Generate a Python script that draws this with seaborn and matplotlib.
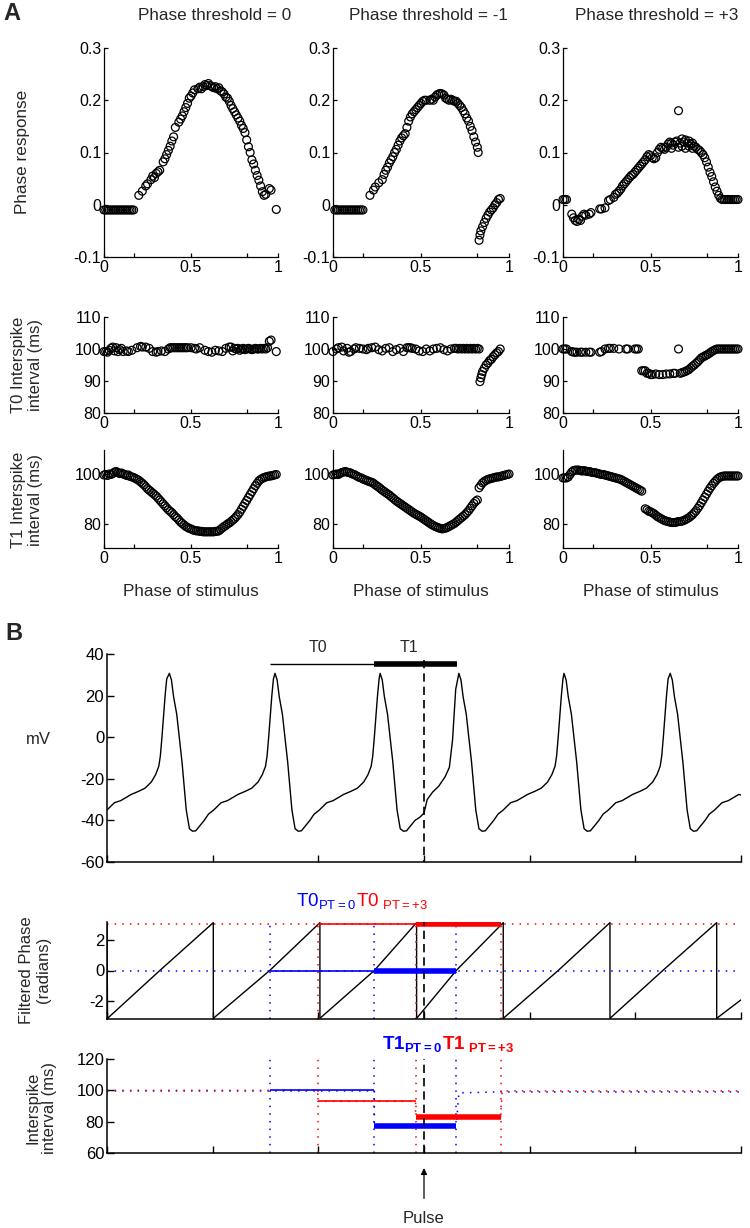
import numpy as np
import matplotlib
matplotlib.use('Agg')
import matplotlib.pyplot as plt
import seaborn as sns
from matplotlib import font_manager

# ---------------- panel A data (x = phase of stimulus) ----------------
# phase response, PT = 0
pr_x0 = [0.00, 0.01, 0.02, 0.03, 0.04, 0.05, 0.06, 0.07, 0.08, 0.09,
         0.10, 0.11, 0.12, 0.13, 0.14, 0.15, 0.16, 0.17,
         0.20, 0.22, 0.24, 0.25, 0.27, 0.28, 0.29, 0.30, 0.31, 0.32,
         0.34, 0.35, 0.36, 0.37, 0.38, 0.39, 0.40, 0.41, 0.43, 0.44,
         0.45, 0.46, 0.47, 0.48, 0.49, 0.50, 0.51, 0.52, 0.54, 0.55,
         0.56, 0.57, 0.58, 0.59, 0.60, 0.61, 0.62, 0.63, 0.64, 0.65,
         0.66, 0.67, 0.68, 0.69, 0.70, 0.71, 0.72, 0.73, 0.74, 0.75,
         0.76, 0.77, 0.78, 0.79, 0.80, 0.81, 0.82, 0.83, 0.84, 0.85,
         0.86, 0.87, 0.88, 0.89, 0.90, 0.91, 0.92, 0.93, 0.95, 0.96, 0.99]
pr_y0 = [-0.01, -0.01, -0.01, -0.01, -0.01, -0.01, -0.01, -0.01, -0.01, -0.01,
         -0.01, -0.01, -0.01, -0.01, -0.01, -0.01, -0.01, -0.01,
         0.018, 0.026, 0.036, 0.040, 0.048, 0.055, 0.052, 0.060, 0.063, 0.066,
         0.082, 0.088, 0.096, 0.104, 0.112, 0.122, 0.130, 0.148, 0.158, 0.164,
         0.170, 0.178, 0.186, 0.194, 0.204, 0.208, 0.214, 0.220, 0.222, 0.225,
         0.222, 0.226, 0.230, 0.228, 0.232, 0.228, 0.226, 0.224, 0.226, 0.222,
         0.224, 0.218, 0.216, 0.212, 0.206, 0.204, 0.198, 0.190, 0.184, 0.178,
         0.172, 0.166, 0.160, 0.152, 0.146, 0.138, 0.124, 0.111, 0.100, 0.086,
         0.078, 0.066, 0.056, 0.047, 0.036, 0.025, 0.018, 0.020, 0.031, 0.028, -0.009]

# phase response, PT = -1
pr_x1 = [0.01, 0.02, 0.03, 0.04, 0.05, 0.06, 0.07, 0.08, 0.09, 0.10,
         0.11, 0.12, 0.13, 0.14, 0.15, 0.16, 0.17,
         0.21, 0.23, 0.24, 0.26, 0.28, 0.29, 0.30, 0.31, 0.32, 0.33,
         0.34, 0.35, 0.36, 0.37, 0.38, 0.39, 0.40, 0.41, 0.42, 0.43,
         0.44, 0.45, 0.46, 0.47, 0.48, 0.49, 0.50, 0.51, 0.52, 0.53,
         0.55, 0.56, 0.57, 0.58, 0.59, 0.60, 0.61, 0.62, 0.63, 0.64,
         0.65, 0.66, 0.67, 0.68, 0.69, 0.70, 0.71, 0.72, 0.73, 0.74,
         0.75, 0.76, 0.77, 0.78, 0.79, 0.80, 0.81, 0.82, 0.825,
         0.83, 0.835, 0.84, 0.85, 0.86, 0.87, 0.88, 0.89, 0.90, 0.91, 0.92, 0.93, 0.94, 0.95]
pr_y1 = [-0.01, -0.01, -0.01, -0.01, -0.01, -0.01, -0.01, -0.01, -0.01, -0.01,
         -0.01, -0.01, -0.01, -0.01, -0.01, -0.01, -0.01,
         0.018, 0.028, 0.034, 0.042, 0.048, 0.058, 0.066, 0.072, 0.080, 0.086,
         0.092, 0.100, 0.106, 0.114, 0.122, 0.128, 0.132, 0.136, 0.148, 0.160,
         0.168, 0.174, 0.178, 0.182, 0.186, 0.190, 0.194, 0.198, 0.200, 0.200,
         0.200, 0.202, 0.200, 0.206, 0.210, 0.212, 0.213, 0.212, 0.210, 0.204,
         0.202, 0.200, 0.202, 0.200, 0.198, 0.198, 0.194, 0.190, 0.186, 0.180,
         0.174, 0.166, 0.160, 0.150, 0.142, 0.130, 0.120, 0.110, 0.100,
         -0.068, -0.058, -0.050, -0.042, -0.034, -0.026, -0.020, -0.014, -0.010, -0.006,
         0.000, 0.004, 0.010, 0.012]

# phase response, PT = +3
pr_x3 = [0.00, 0.01, 0.02, 0.05, 0.06, 0.07, 0.08, 0.09, 0.10, 0.11,
         0.12, 0.13, 0.15, 0.16, 0.21, 0.22, 0.24, 0.26, 0.27, 0.29,
         0.30, 0.31, 0.32, 0.33, 0.34, 0.35, 0.36, 0.37, 0.38, 0.39,
         0.40, 0.41, 0.42, 0.43, 0.44, 0.45, 0.46, 0.47, 0.48, 0.49,
         0.50, 0.51, 0.52, 0.53, 0.54, 0.55, 0.56, 0.57, 0.58, 0.59,
         0.60, 0.61, 0.62, 0.63, 0.64, 0.65, 0.66, 0.67, 0.68, 0.69,
         0.70, 0.71, 0.72, 0.73, 0.74, 0.75, 0.76, 0.77, 0.78, 0.79,
         0.80, 0.81, 0.82, 0.83, 0.84, 0.85, 0.86, 0.87, 0.88, 0.89,
         0.90, 0.91, 0.92, 0.93, 0.94, 0.95, 0.96, 0.97, 0.98, 0.99, 1.00,
         0.62, 0.66, 0.68, 0.70, 0.72, 0.74]
pr_y3 = [0.010, 0.010, 0.010, -0.018, -0.025, -0.030, -0.032, -0.028, -0.030, -0.022,
         -0.018, -0.020, -0.018, -0.015, -0.008, -0.008, -0.006, 0.008, 0.010, 0.014,
         0.020, 0.022, 0.026, 0.030, 0.036, 0.040, 0.044, 0.048, 0.052, 0.056,
         0.058, 0.062, 0.066, 0.070, 0.074, 0.078, 0.082, 0.086, 0.092, 0.096,
         0.094, 0.090, 0.088, 0.090, 0.100, 0.106, 0.110, 0.108, 0.106, 0.110,
         0.116, 0.120, 0.118, 0.114, 0.120, 0.122, 0.180, 0.118, 0.126, 0.120,
         0.124, 0.118, 0.122, 0.116, 0.118, 0.112, 0.110, 0.106, 0.104, 0.100,
         0.096, 0.090, 0.082, 0.072, 0.062, 0.054, 0.044, 0.034, 0.026, 0.018,
         0.012, 0.010, 0.010, 0.010, 0.010, 0.010, 0.010, 0.010, 0.010, 0.010, 0.010,
         0.108, 0.110, 0.112, 0.108, 0.112, 0.108]

# T0 interspike interval (ms)
t0_x0 = [0.00, 0.01, 0.02, 0.03, 0.04, 0.05, 0.06, 0.07, 0.08, 0.09,
         0.10, 0.11, 0.13, 0.14, 0.16, 0.19, 0.21, 0.22, 0.24, 0.26,
         0.28, 0.30, 0.31, 0.33, 0.35, 0.37, 0.38, 0.39, 0.40, 0.41,
         0.42, 0.43, 0.44, 0.45, 0.46, 0.47, 0.48, 0.50, 0.52, 0.53,
         0.55, 0.58, 0.60, 0.62, 0.64, 0.66, 0.68, 0.70, 0.72, 0.73,
         0.74, 0.75, 0.76, 0.77, 0.78, 0.79, 0.80, 0.81, 0.82, 0.83,
         0.84, 0.85, 0.86, 0.87, 0.88, 0.89, 0.90, 0.91, 0.92, 0.93,
         0.94, 0.95, 0.96, 0.99]
t0_y0 = [99.2, 99.2, 99.0, 99.6, 100.2, 100.6, 99.4, 100.4, 99.2, 99.8,
         100.2, 99.2, 99.4, 99.2, 99.6, 100.4, 100.8, 100.6, 100.6, 100.2,
         99.2, 99.0, 99.2, 99.4, 99.2, 100.0, 100.4, 100.4, 100.4, 100.4,
         100.4, 100.4, 100.4, 100.4, 100.4, 100.4, 100.4, 100.4, 100.2, 100.0,
         100.4, 99.6, 99.2, 99.0, 99.6, 99.4, 99.2, 100.2, 100.6, 100.6,
         99.4, 100.2, 100.0, 100.2, 99.6, 100.0, 100.2, 99.8, 100.0, 100.2,
         100.0, 99.8, 100.0, 100.2, 100.0, 100.0, 100.2, 100.0, 100.2, 100.0,
         100.4, 102.4, 102.8, 99.2]

t0_x1 = [0.00, 0.02, 0.03, 0.05, 0.06, 0.08, 0.09, 0.10, 0.12, 0.13,
         0.15, 0.17, 0.19, 0.20, 0.22, 0.24, 0.26, 0.28, 0.30, 0.32,
         0.34, 0.36, 0.38, 0.40, 0.42, 0.43, 0.44, 0.45, 0.47, 0.49,
         0.51, 0.53, 0.55, 0.57, 0.59, 0.61, 0.63, 0.65, 0.67, 0.69,
         0.70, 0.71, 0.72, 0.73, 0.74, 0.75, 0.76, 0.77, 0.78, 0.79,
         0.80, 0.81, 0.82, 0.83,
         0.835, 0.84, 0.845, 0.85, 0.86, 0.87, 0.88, 0.89, 0.90, 0.91,
         0.92, 0.93, 0.94, 0.95]
t0_y1 = [99.2, 100.0, 100.4, 100.6, 99.4, 100.2, 99.0, 99.2, 100.0, 100.4,
         100.2, 100.0, 99.8, 100.2, 100.4, 100.6, 99.8, 99.4, 100.2, 100.4,
         99.2, 99.8, 100.2, 99.2, 100.4, 100.4, 100.4, 100.2, 100.0, 99.4,
         99.2, 100.0, 99.4, 100.0, 100.2, 100.4, 99.8, 99.4, 100.0, 100.2,
         100.2, 100.0, 100.2, 100.0, 100.2, 100.0, 100.2, 100.0, 100.2, 100.0,
         100.2, 100.0, 100.2, 100.0,
         89.8, 91.0, 92.0, 93.0, 94.0, 95.0, 95.6, 96.4, 96.8, 97.6,
         98.2, 98.8, 99.2, 100.0]

t0_x3 = [0.00, 0.01, 0.02, 0.05, 0.06, 0.07, 0.08, 0.10, 0.11, 0.13,
         0.15, 0.16, 0.21, 0.22, 0.24, 0.26, 0.27, 0.29, 0.32, 0.36,
         0.37, 0.41, 0.42, 0.43,
         0.45, 0.46, 0.47, 0.48, 0.49, 0.50, 0.51, 0.53, 0.55, 0.57,
         0.59, 0.61, 0.63, 0.64, 0.66, 0.67, 0.68, 0.69, 0.70, 0.71,
         0.72, 0.73, 0.74, 0.75, 0.76, 0.77, 0.78, 0.79, 0.80, 0.81,
         0.82, 0.83, 0.84, 0.85, 0.86, 0.87, 0.88, 0.89, 0.90, 0.91,
         0.92, 0.93, 0.94, 0.95, 0.96, 0.97, 0.98, 0.99, 1.00]
t0_y3 = [100.0, 100.0, 100.0, 99.2, 99.0, 99.0, 99.0, 99.0, 99.0, 99.0,
         99.0, 99.0, 99.0, 99.2, 100.0, 100.2, 100.2, 100.2, 100.0, 100.0,
         100.0, 100.0, 100.0, 100.0,
         93.2, 93.2, 93.2, 92.4, 92.4, 92.0, 92.0, 92.2, 92.0, 92.0,
         92.2, 92.2, 92.4, 92.4, 100.0, 92.4, 92.6, 92.8, 93.0, 93.3,
         93.6, 94.1, 94.6, 95.0, 95.5, 96.0, 96.6, 97.2, 97.5, 97.8,
         98.1, 98.4, 98.8, 99.2, 99.5, 99.8, 100.0, 100.0, 100.0, 100.0,
         100.0, 100.0, 100.0, 100.0, 100.0, 100.0, 100.0, 100.0, 100.0]

# T1 interspike interval (ms)
t1_x0 = [0.00, 0.01, 0.02, 0.03, 0.04, 0.05, 0.06, 0.07, 0.08, 0.09,
         0.10, 0.11, 0.12, 0.13, 0.14, 0.15, 0.16, 0.17, 0.18, 0.19,
         0.20, 0.21, 0.22, 0.23, 0.24, 0.25, 0.26, 0.27, 0.28, 0.29,
         0.30, 0.31, 0.32, 0.33, 0.34, 0.35, 0.36, 0.37, 0.38, 0.39,
         0.40, 0.41, 0.42, 0.43, 0.44, 0.45, 0.46, 0.47, 0.48, 0.49,
         0.50, 0.51, 0.52, 0.53, 0.54, 0.55, 0.56, 0.57, 0.58, 0.59,
         0.60, 0.61, 0.62, 0.63, 0.64, 0.65, 0.66, 0.67, 0.68, 0.69,
         0.70, 0.71, 0.72, 0.73, 0.74, 0.75, 0.76, 0.77, 0.78, 0.79,
         0.80, 0.81, 0.82, 0.83, 0.84, 0.85, 0.86, 0.87, 0.88, 0.89,
         0.90, 0.91, 0.92, 0.93, 0.94, 0.95, 0.96, 0.97, 0.98, 0.99]
t1_y0 = [99.8, 100.0, 99.6, 100.2, 100.0, 100.4, 101.0, 101.2, 100.8, 100.4,
         100.6, 100.2, 100.0, 99.6, 99.8, 99.2, 99.0, 98.8, 98.4, 98.0,
         97.6, 97.0, 96.4, 95.8, 95.0, 94.2, 93.6, 93.0, 92.4, 91.8,
         91.2, 90.4, 89.6, 88.8, 88.0, 87.2, 86.4, 85.6, 85.0, 84.4,
         83.6, 82.8, 82.2, 81.4, 80.6, 80.0, 79.4, 78.8, 78.4, 78.0,
         77.8, 77.4, 77.2, 77.0, 77.0, 76.8, 76.8, 76.6, 76.6, 76.6,
         76.6, 76.6, 76.6, 76.6, 76.8, 76.8, 77.0, 77.6, 78.2, 78.8,
         79.2, 79.8, 80.2, 80.8, 81.4, 82.0, 82.8, 83.6, 84.6, 85.8,
         87.0, 88.2, 89.4, 90.6, 91.8, 93.0, 94.2, 95.4, 96.4, 97.4,
         98.0, 98.4, 98.8, 99.0, 99.2, 99.4, 99.4, 99.6, 99.8, 100.0]

t1_x1 = [0.00, 0.01, 0.02, 0.03, 0.04, 0.05, 0.06, 0.07, 0.08, 0.09,
         0.10, 0.11, 0.12, 0.13, 0.14, 0.15, 0.16, 0.17, 0.18, 0.19,
         0.20, 0.21, 0.22, 0.23, 0.24, 0.25, 0.26, 0.27, 0.28, 0.29,
         0.30, 0.31, 0.32, 0.33, 0.34, 0.35, 0.36, 0.37, 0.38, 0.39,
         0.40, 0.41, 0.42, 0.43, 0.44, 0.45, 0.46, 0.47, 0.48, 0.49,
         0.50, 0.51, 0.52, 0.53, 0.54, 0.55, 0.56, 0.57, 0.58, 0.59,
         0.60, 0.61, 0.62, 0.63, 0.64, 0.65, 0.66, 0.67, 0.68, 0.69,
         0.70, 0.71, 0.72, 0.73, 0.74, 0.75, 0.76, 0.77, 0.78, 0.79,
         0.80, 0.81, 0.82, 0.83, 0.84, 0.85, 0.86, 0.87, 0.88, 0.89,
         0.90, 0.91, 0.92, 0.93, 0.94, 0.95, 0.96, 0.97, 0.98, 0.99, 1.00]
t1_y1 = [99.8, 100.0, 100.2, 100.0, 100.4, 100.8, 101.0, 101.2, 101.0, 100.8,
         100.6, 100.2, 100.0, 99.6, 99.2, 98.8, 98.6, 98.2, 97.9, 97.6,
         97.3, 97.0, 96.8, 96.4, 95.8, 95.3, 94.8, 94.2, 93.6, 93.1,
         92.6, 92.1, 91.6, 91.0, 90.4, 89.8, 89.2, 88.7, 88.2, 87.7,
         87.2, 86.7, 86.2, 85.7, 85.2, 84.7, 84.2, 83.8, 83.4, 83.0,
         82.6, 82.1, 81.6, 81.1, 80.6, 80.1, 79.6, 79.2, 78.8, 78.5,
         78.2, 78.0, 77.8, 77.9, 78.1, 78.4, 78.8, 79.2, 79.6, 80.0,
         80.6, 81.2, 81.8, 82.4, 83.0, 83.6, 84.4, 85.2, 86.2, 87.2,
         88.2, 89.0, 89.6, 94.6, 95.6, 96.6, 97.2, 97.6, 98.0, 98.2,
         98.4, 98.6, 98.8, 99.0, 99.0, 99.2, 99.4, 99.6, 99.8, 100.0, 100.2]

t1_x3 = [0.00, 0.01, 0.02, 0.03, 0.04, 0.05, 0.06, 0.07, 0.08, 0.09,
         0.10, 0.11, 0.12, 0.13, 0.14, 0.15, 0.16, 0.17, 0.18, 0.19,
         0.20, 0.21, 0.22, 0.23, 0.24, 0.25, 0.26, 0.27, 0.28, 0.29,
         0.30, 0.31, 0.32, 0.33, 0.34, 0.35, 0.36, 0.37, 0.38, 0.39,
         0.40, 0.41, 0.42, 0.43, 0.44, 0.45, 0.47, 0.48, 0.49,
         0.50, 0.51, 0.52, 0.53, 0.54, 0.55, 0.56, 0.57, 0.58, 0.59,
         0.60, 0.61, 0.62, 0.63, 0.64, 0.65, 0.66, 0.67, 0.68, 0.69,
         0.70, 0.71, 0.72, 0.73, 0.74, 0.75, 0.76, 0.77, 0.78, 0.79,
         0.80, 0.81, 0.82, 0.83, 0.84, 0.85, 0.86, 0.87, 0.88, 0.89,
         0.90, 0.91, 0.92, 0.93, 0.94, 0.95, 0.96, 0.97, 0.98, 0.99, 1.00]
t1_y3 = [98.6, 98.6, 98.6, 99.0, 100.0, 101.0, 101.6, 101.8, 101.8, 101.8,
         101.6, 101.4, 101.6, 101.4, 101.2, 101.2, 101.0, 100.8, 100.8, 100.6,
         100.4, 100.2, 100.0, 100.0, 99.8, 99.6, 99.4, 99.2, 99.0, 98.8,
         98.6, 98.4, 98.2, 98.0, 97.6, 97.2, 96.8, 96.4, 96.0, 95.6,
         95.2, 94.8, 94.4, 94.0, 93.6, 93.2, 86.0, 85.6, 85.0,
         84.8, 84.4, 84.0, 83.4, 82.8, 82.4, 82.0, 81.6, 81.2, 81.0,
         80.8, 80.6, 80.4, 80.4, 80.4, 80.6, 80.8, 80.8, 81.0, 81.2,
         81.6, 82.0, 82.4, 83.0, 83.6, 84.4, 85.2, 86.2, 87.2, 88.4,
         89.6, 90.8, 92.0, 93.2, 94.4, 95.4, 96.4, 97.2, 98.0, 98.6,
         99.0, 99.2, 99.4, 99.4, 99.4, 99.4, 99.4, 99.4, 99.4, 99.4, 99.4]

col_titles = ['Phase threshold = 0', 'Phase threshold = -1', 'Phase threshold = +3']

# ---------------- panel B data (time in ms) ----------------
spike_peaks = [-42, 59, 159, 258.5, 333, 432.5, 533]
# one spike cycle, offsets from the peak (ms) and membrane potential (mV)
cyc_dt = [0, 2, 4, 7, 10, 12, 16, 19, 22, 25,
          29, 33, 37, 42, 49, 55, 65, 72, 78, 84,
          88, 91, 92.5, 94, 95.5, 97, 98.5]
cyc_mv = [30.7, 27.5, 19.5, 11, -3, -12, -35, -44, -45.2, -45,
          -42.5, -40, -37, -35, -31.5, -30.5, -27.5, -26, -24.5, -21.5,
          -18, -14, -9, 0, 10, 20, 28]
# the cycle hit by the pulse (after the spike at 258.5 ms)
pert_t = [296, 300, 303, 308, 314, 320, 324, 327, 330]
pert_mv = [-38.5, -36.5, -30, -26.5, -23.5, -19, -14.5, -1.4, 23]
trace_end = (600, -27.8)

# filtered phase (radians)
ph_t = [0, 0.5, 50, 100.6, 100.6, 154, 201.5, 201.5, 253, 293, 293,
        330.5, 375, 375, 427, 476, 476, 526, 577, 577, 600]
ph_v = [3.1, -3.1, 0, 3.1, -3.1, 0, 3.1, -3.1, 0, 3.1, -3.1,
        0, 3.1, -3.1, 0, 3.1, -3.1, 0, 3.1, -3.1, -1.9]
pt_blue, pt_red = 0, 3
blue_marks = [154, 253, 330.5]
red_marks = [199.5, 292, 372.5]
pulse_t = 300

# interspike interval traces (ms)
isi_bt = [0, 253, 253, 330.5, 333, 372, 600]
isi_bv = [99.6, 99.6, 77.5, 77.5, 98.4, 99.0, 99.0]
isi_rt = [0, 199.5, 199.5, 292, 292, 372.5, 374, 600]
isi_rv = [100.0, 100.0, 93.0, 93.0, 83.0, 83.0, 99.6, 99.6]
t0_blue, t1_blue = 100.0, 77.5
t0_red, t1_red = 93.0, 83.0
bar_mv = 35.2

# ---------------- style ----------------
sns.set_style('ticks')
try:
    font_manager.findfont('Liberation Sans Narrow', fallback_to_default=False)
    narrow = 'Liberation Sans Narrow'
except ValueError:
    narrow = 'Liberation Sans'
plt.rcParams['font.family'] = ['Liberation Sans', 'DejaVu Sans']
plt.rcParams['axes.unicode_minus'] = False
plt.rcParams['xtick.direction'] = 'in'
plt.rcParams['ytick.direction'] = 'in'
plt.rcParams['axes.linewidth'] = 0.9
plt.rcParams['axes.edgecolor'] = 'black'
plt.rcParams['xtick.color'] = 'black'
plt.rcParams['ytick.color'] = 'black'
plt.rcParams['mathtext.default'] = 'regular'

W, H = 750, 1228
fig = plt.figure(figsize=(W / 100, H / 100), dpi=100)


def box(l, t, r, b):
    return [l / W, 1 - b / H, (r - l) / W, (b - t) / H]


def fpos(x, y):
    return x / W, 1 - y / H


# ---------------- panel A ----------------
cols = [(104, 278), (333, 509), (563, 738)]
rows = [(48, 257), (317, 413), (450, 548)]
panelA = [[(pr_x0, pr_y0), (pr_x1, pr_y1), (pr_x3, pr_y3)],
          [(t0_x0, t0_y0), (t0_x1, t0_y1), (t0_x3, t0_y3)],
          [(t1_x0, t1_y0), (t1_x1, t1_y1), (t1_x3, t1_y3)]]
ylims = [(-0.1, 0.3), (80, 110), (70, 110)]
yticks = [[-0.1, 0, 0.1, 0.2, 0.3], [80, 90, 100, 110], [80, 100]]
ylabs = [['-0.1', '0', '0.1', '0.2', '0.3'], ['80', '90', '100', '110'], ['80', '100']]

for r in range(3):
    for c in range(3):
        ax = fig.add_axes(box(cols[c][0], rows[r][0], cols[c][1], rows[r][1]))
        x, y = panelA[r][c]
        sns.scatterplot(x=x, y=y, ax=ax, s=32, marker='o', color='k',
                        facecolor='none', edgecolor='k', linewidth=0.9,
                        clip_on=False, legend=False)
        ax.set_xlim(0, 1)
        ax.set_ylim(*ylims[r])
        ax.set_xticks([0, 0.17, 0.5, 0.82, 1])
        ax.set_xticklabels(['0', '', '0.5', '', '1'])
        ax.set_yticks(yticks[r])
        ax.set_yticklabels(ylabs[r])
        ax.tick_params(length=3, width=0.9, labelsize=11.5, pad=2)
        ax.set_xlabel('')
        ax.set_ylabel('')
        sns.despine(ax=ax)

title_x = [215, 428, 657]
for c in range(3):
    fig.text(*fpos(title_x[c], 15), col_titles[c], ha='center', va='center', fontsize=12.3)
    fig.text(*fpos((cols[c][0] + cols[c][1]) / 2, 592), 'Phase of stimulus',
             ha='center', va='center', fontsize=12.3)

fig.text(*fpos(23, 152), 'Phase response', rotation=90, ha='center', va='center', fontsize=12.3)
fig.text(*fpos(27, 365), 'T0 Interspike\ninterval (ms)', rotation=90, ha='center',
         va='center', fontsize=12, linespacing=1.1)
fig.text(*fpos(27, 500), 'T1 Interspike\ninterval (ms)', rotation=90, ha='center',
         va='center', fontsize=12, linespacing=1.1)
fig.text(*fpos(12, 14), 'A', ha='center', va='center', fontsize=17, fontweight='bold')
fig.text(*fpos(14, 633), 'B', ha='center', va='center', fontsize=17, fontweight='bold')

# ---------------- panel B ----------------
# build the voltage trace from the read cycle shape
v_t, v_mv = [], []
for i, tp in enumerate(spike_peaks):
    for dt, mv in zip(cyc_dt, cyc_mv):
        t = tp + dt
        if t < 0 or t > trace_end[0]:
            continue
        if tp == 258.5 and t > 292:
            break
        v_t.append(t)
        v_mv.append(mv)
    if tp == 258.5:
        v_t += pert_t
        v_mv += pert_mv
v_t.append(trace_end[0])
v_mv.append(trace_end[1])

ax_v = fig.add_axes(box(107, 654, 741, 862))
ax_p = fig.add_axes(box(107, 922, 741, 1019))
ax_i = fig.add_axes(box(107, 1059, 741, 1153))

sns.lineplot(x=v_t, y=v_mv, ax=ax_v, color='k', lw=1.0, sort=False, estimator=None)
ax_v.set_ylim(-60, 40)
ax_v.set_yticks([-60, -40, -20, 0, 20, 40])
ax_v.plot([blue_marks[0], blue_marks[1]], [bar_mv, bar_mv], color='k', lw=1.0,
          solid_capstyle='butt')
ax_v.plot([blue_marks[1], 331], [bar_mv, bar_mv], color='k', lw=4, solid_capstyle='butt')
ax_v.plot([pulse_t, pulse_t], [37, -60], color='k', lw=1.2, linestyle=(0, (5, 3)))
ax_v.text(200, 41, 'T0', ha='center', va='baseline', fontsize=11.5, family=narrow)
ax_v.text(286, 41, 'T1', ha='center', va='baseline', fontsize=11.5, family=narrow)

# filtered phase
dot = (0, (1, 4))
sns.lineplot(x=ph_t, y=ph_v, ax=ax_p, color='k', lw=1.0, sort=False, estimator=None)
ax_p.set_ylim(-np.pi, np.pi)
ax_p.set_yticks([-2, 0, 2])
ax_p.axhline(pt_red, color='red', lw=1.1, linestyle=dot)
ax_p.axhline(pt_blue, color='blue', lw=1.1, linestyle=dot)
for t in blue_marks:
    ax_p.axvline(t, color='blue', lw=1.1, linestyle=dot)
for t in red_marks:
    ax_p.axvline(t, color='red', lw=1.1, linestyle=dot)
ax_p.plot(blue_marks[:2], [pt_blue, pt_blue], color='blue', lw=1.2, solid_capstyle='butt')
ax_p.plot(blue_marks[1:], [pt_blue, pt_blue], color='blue', lw=4, solid_capstyle='butt')
ax_p.plot(red_marks[:2], [pt_red, pt_red], color='red', lw=1.2, solid_capstyle='butt')
ax_p.plot(red_marks[1:], [pt_red, pt_red], color='red', lw=4, solid_capstyle='butt')
ax_p.axvline(pulse_t, color='k', lw=1.2, linestyle=(0, (5, 3)))
ax_p.text(236, 4.15, r'T0$_{PT=0}$', color='blue', ha='right', va='baseline',
          fontsize=13.5, family=narrow)
ax_p.text(236, 4.15, r'T0$_{\ PT=+3}$', color='red', ha='left', va='baseline',
          fontsize=13.5, family=narrow)

# interspike interval
ax_i.plot(isi_bt, isi_bv, color='blue', lw=1.1, linestyle=dot)
ax_i.plot(isi_rt, isi_rv, color='red', lw=1.1, linestyle=dot)
for t in blue_marks:
    ax_i.axvline(t, color='blue', lw=1.1, linestyle=dot)
for t in red_marks:
    ax_i.axvline(t, color='red', lw=1.1, linestyle=dot)
ax_i.plot(blue_marks[:2], [t0_blue, t0_blue], color='blue', lw=1.2, solid_capstyle='butt')
ax_i.plot(blue_marks[1:], [t1_blue, t1_blue], color='blue', lw=4, solid_capstyle='butt')
ax_i.plot(red_marks[:2], [t0_red, t0_red], color='red', lw=1.2, solid_capstyle='butt')
ax_i.plot(red_marks[1:], [t1_red, t1_red], color='red', lw=4, solid_capstyle='butt')
ax_i.axvline(pulse_t, color='k', lw=1.2, linestyle=(0, (5, 3)))
ax_i.set_ylim(60, 120)
ax_i.set_yticks([60, 80, 100, 120])
ax_i.text(317.5, 126.4, r'T1$_{PT=0}$', color='blue', ha='right', va='baseline',
          fontsize=13.5, fontweight='bold', family=narrow)
ax_i.text(317.5, 126.4, r'T1$_{\ PT=+3}$', color='red', ha='left', va='baseline',
          fontsize=13.5, fontweight='bold', family=narrow)
ax_i.annotate('Pulse', xy=(pulse_t, -0.16), xycoords=('data', 'axes fraction'),
              xytext=(pulse_t, -0.70), textcoords=('data', 'axes fraction'),
              ha='center', va='center', fontsize=12, family=narrow,
              arrowprops=dict(arrowstyle='-|>', color='k', lw=0.9,
                              mutation_scale=9, shrinkA=7, shrinkB=0))

for ax in (ax_v, ax_p, ax_i):
    ax.set_xlim(0, 600)
    ax.set_xticks([0, 100, 200, 300, 400, 500, 600])
    ax.set_xticklabels([])
    ax.set_xlabel('')
    ax.set_ylabel('')
    ax.tick_params(length=5, width=1.0, labelsize=12, pad=2)
    for lab in ax.get_yticklabels():
        lab.set_family(narrow)
    for side in ('left', 'bottom'):
        ax.spines[side].set_linewidth(1.1)
    sns.despine(ax=ax)

fig.text(*fpos(38, 740), 'mV', ha='center', va='center', fontsize=12, family=narrow)
fig.text(*fpos(35, 970), 'Filtered Phase\n(radians)', rotation=90, ha='center',
         va='center', fontsize=12, linespacing=1.1)
fig.text(*fpos(41, 1108), 'Interspike\ninterval (ms)', rotation=90, ha='center',
         va='center', fontsize=12, linespacing=1.1)

fig.savefig('out.png', dpi=100)
